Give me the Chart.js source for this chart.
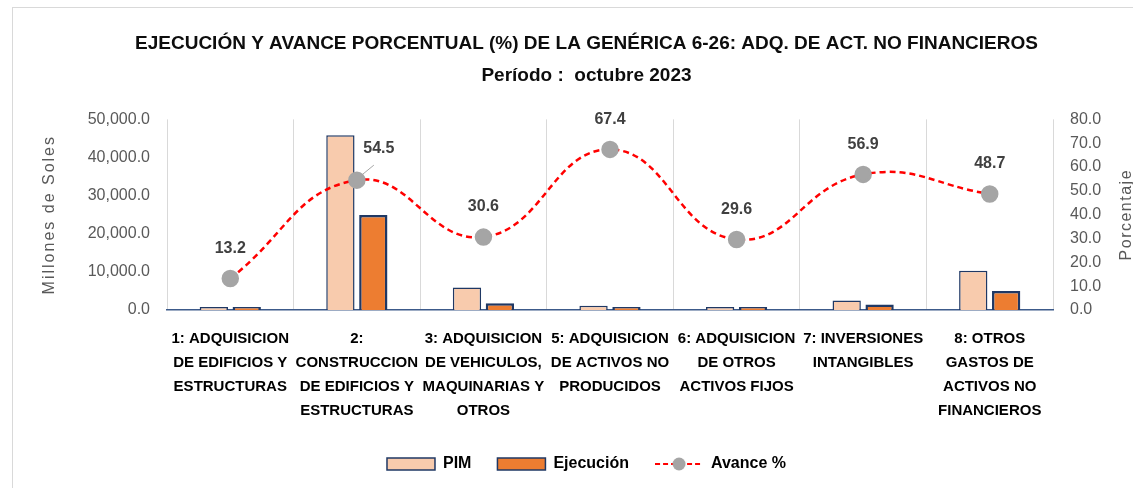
<!DOCTYPE html>
<html>
<head>
<meta charset="utf-8">
<script src="https://cdn.jsdelivr.net/npm/chart.js@4.4.0/dist/chart.umd.min.js"></script>
<style>
  html, body { margin: 0; padding: 0; background: #fff; }
  #wrap { position: relative; width: 1133px; height: 488px; overflow: hidden; }
  #frame { position: absolute; left: 12px; top: 7px; width: 1140px; height: 500px; border: 1px solid #d9d9d9; }
  canvas { position: absolute; left: 0; top: 0; }
</style>
</head>
<body>
<div id="wrap">
  <div id="frame"></div>
  <canvas id="grafico" width="1133" height="488"></canvas>
</div>
<script>
// datos
const categorias = [
  ['1: ADQUISICION', 'DE EDIFICIOS Y', 'ESTRUCTURAS'],
  ['2:', 'CONSTRUCCION', 'DE EDIFICIOS Y', 'ESTRUCTURAS'],
  ['3: ADQUISICION', 'DE VEHICULOS,', 'MAQUINARIAS Y', 'OTROS'],
  ['5: ADQUISICION', 'DE ACTIVOS NO', 'PRODUCIDOS'],
  ['6: ADQUISICION', 'DE OTROS', 'ACTIVOS FIJOS'],
  ['7: INVERSIONES', 'INTANGIBLES'],
  ['8: OTROS', 'GASTOS DE', 'ACTIVOS NO', 'FINANCIEROS']
];
const pim = [600, 45800, 5900, 1100, 500, 2500, 10300];
const ejecucion = [80, 24900, 1800, 740, 150, 1420, 5000];
const avance = [13.2, 54.5, 30.6, 67.4, 29.6, 56.9, 48.7];

const titulo = ['EJECUCIÓN Y AVANCE PORCENTUAL (%) DE LA GENÉRICA 6-26: ADQ. DE ACT. NO FINANCIEROS', 'Período :  octubre 2023'];
const tituloIzq = 'Millones de Soles';
const tituloDer = 'Porcentaje';

const FUENTE = "'Liberation Sans', Arial, sans-serif";
const GRIS = '#595959';

// muestra de la leyenda para la linea
function muestraLinea() {
  const c = document.createElement('canvas');
  c.width = 48; c.height = 16;
  const g = c.getContext('2d');
  g.strokeStyle = '#FF0000';
  g.lineWidth = 2;
  g.setLineDash([5, 3]);
  g.beginPath(); g.moveTo(0, 8); g.lineTo(48, 8); g.stroke();
  g.fillStyle = '#A5A5A5';
  g.beginPath(); g.arc(24, 8, 6.5, 0, Math.PI * 2); g.fill();
  return c;
}

const etiquetas = {
  id: 'etiquetas',
  afterDatasetsDraw(chart) {
    const ctx = chart.ctx;
    const meta = chart.getDatasetMeta(2);
    ctx.save();
    ctx.font = 'bold 16px ' + FUENTE;
    ctx.fillStyle = '#404040';
    ctx.textAlign = 'center';
    ctx.textBaseline = 'middle';
    meta.data.forEach((p, i) => {
      const txt = avance[i].toFixed(1);
      if (i === 1) {
        ctx.strokeStyle = '#A5A5A5';
        ctx.lineWidth = 1;
        ctx.beginPath();
        ctx.moveTo(p.x + 6, p.y - 6);
        ctx.lineTo(p.x + 17, p.y - 15);
        ctx.stroke();
        ctx.fillText(txt, p.x + 22, p.y - 32);
      } else {
        ctx.fillText(txt, p.x, p.y - 30);
      }
    });
    ctx.restore();
  },
  afterDraw(chart) {
    const ctx = chart.ctx;
    const a = chart.chartArea;
    const cy = (a.top + a.bottom) / 2;
    ctx.save();
    ctx.font = '16px ' + FUENTE;
    ctx.fillStyle = GRIS;
    ctx.textAlign = 'center';
    ctx.textBaseline = 'middle';
    ctx.letterSpacing = '2px';
    ctx.translate(50, cy);
    ctx.rotate(-Math.PI / 2);
    ctx.fillText(tituloIzq, 0, 0);
    ctx.restore();
    ctx.save();
    ctx.font = '16px ' + FUENTE;
    ctx.fillStyle = GRIS;
    ctx.textAlign = 'center';
    ctx.textBaseline = 'middle';
    ctx.letterSpacing = '1.5px';
    ctx.translate(chart.scales.y1.right - 6, cy);
    ctx.rotate(-Math.PI / 2);
    ctx.fillText(tituloDer, 0, 0);
    ctx.restore();
  }
};

const ctx = document.getElementById('grafico').getContext('2d');

new Chart(ctx, {
  type: 'bar',
  data: {
    labels: categorias,
    datasets: [
      {
        label: 'PIM',
        data: pim,
        backgroundColor: '#F8CBAD',
        borderColor: '#1F3864',
        borderWidth: 1.5,
        minBarLength: 3,
        yAxisID: 'y',
        order: 1
      },
      {
        label: 'Ejecución',
        data: ejecucion,
        backgroundColor: '#ED7D31',
        borderColor: '#1F3864',
        borderWidth: 2.5,
        minBarLength: 3,
        yAxisID: 'y',
        order: 1
      },
      {
        type: 'line',
        label: 'Avance %',
        data: avance,
        yAxisID: 'y1',
        borderColor: '#FF0000',
        borderWidth: 2.5,
        borderDash: [6, 4],
        tension: 0.45,
        pointRadius: 7.5,
        pointBackgroundColor: '#A5A5A5',
        pointBorderColor: '#A5A5A5',
        order: 0
      }
    ]
  },
  options: {
    responsive: false,
    animation: false,
    categoryPercentage: 0.52,
    barPercentage: 0.86,
    layout: { padding: { top: 8, left: 40, right: 0, bottom: 6 } },
    plugins: {
      tooltip: { enabled: false },
      title: {
        display: true,
        text: titulo,
        color: '#0d0d0d',
        font: { family: FUENTE, size: 19, weight: 'bold', lineHeight: 1.72 },
        padding: { top: 19, bottom: 27 }
      },
      legend: {
        position: 'bottom',
        labels: {
          usePointStyle: true,
          pointStyleWidth: 48,
          boxHeight: 12,
          padding: 26,
          color: '#000',
          font: { family: FUENTE, size: 16, weight: 'bold' },
          generateLabels(chart) {
            return chart.data.datasets.map((ds, i) => ({
              text: ds.label,
              datasetIndex: i,
              hidden: false,
              fillStyle: ds.type === 'line' ? '#A5A5A5' : ds.backgroundColor,
              strokeStyle: ds.type === 'line' ? '#FF0000' : ds.borderColor,
              lineWidth: ds.type === 'line' ? 0 : 1.5,
              pointStyle: ds.type === 'line' ? muestraLinea() : 'rect'
            }));
          }
        }
      }
    },
    scales: {
      x: {
        offset: true,
        grid: { display: true, offset: true, color: '#d9d9d9', drawTicks: false },
        border: { display: true, color: '#3c5a8a', width: 1.5 },
        ticks: {
          color: '#000',
          font: { family: FUENTE, size: 15, weight: 'bold', lineHeight: 1.6 },
          padding: 17,
          maxRotation: 0,
          autoSkip: false
        },
        afterFit(s) { s.height = 120; }
      },
      y: {
        position: 'left',
        min: 0,
        max: 50000,
        grid: { display: false },
        border: { display: false },
        ticks: {
          stepSize: 10000,
          padding: 9,
          color: GRIS,
          font: { family: FUENTE, size: 16 },
          callback: v => v.toLocaleString('en-US', { minimumFractionDigits: 1, maximumFractionDigits: 1 })
        },
        afterFit(s) { s.width = 127; }
      },
      y1: {
        position: 'right',
        min: 0,
        max: 80,
        grid: { display: false },
        border: { display: false },
        ticks: {
          stepSize: 10,
          padding: 9,
          color: GRIS,
          font: { family: FUENTE, size: 16 },
          callback: v => v.toFixed(1)
        },
        afterFit(s) { s.width = 80; }
      }
    }
  },
  plugins: [etiquetas]
});
</script>
</body>
</html>
